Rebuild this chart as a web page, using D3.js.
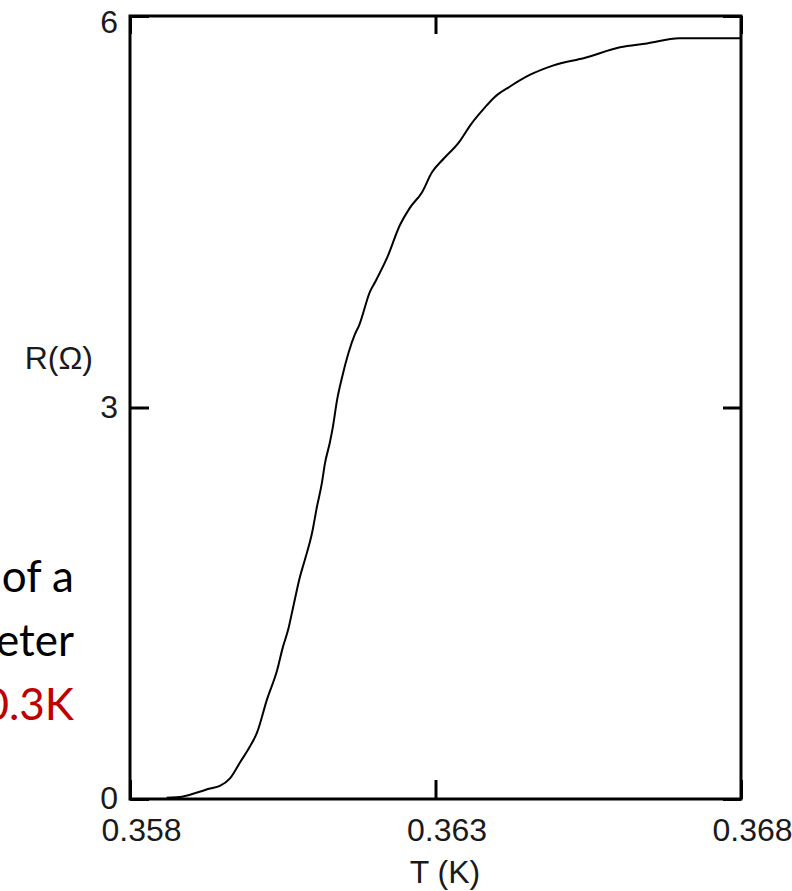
<!DOCTYPE html>
<html>
<head>
<meta charset="utf-8">
<script src="https://cdn.jsdelivr.net/npm/d3@7"></script>
<style>
  html, body { margin: 0; padding: 0; background: #fff; }
  svg { display: block; }
  .lbl { font-family: "Liberation Sans", Arial, Helvetica, sans-serif; font-size: 32px; fill: #1a1a1a; }
  .slide { font-family: Lato, "Open Sans", sans-serif; font-size: 44px; }
</style>
</head>
<body>
<svg id="chart" width="792" height="891"></svg>
<script>
// Resistance vs temperature across the superconducting transition
const temperatureK = [
  0.3586, 0.35887, 0.3591, 0.35931, 0.35947, 0.35964, 0.3598, 0.35996, 0.36008, 0.36024,
  0.36041, 0.3605, 0.36059, 0.36067, 0.36078, 0.36086, 0.36098, 0.36106, 0.36114, 0.36119,
  0.36127, 0.36132, 0.36139, 0.36147, 0.36168, 0.36175, 0.36193, 0.36201, 0.36221, 0.36242,
  0.36258, 0.36278, 0.36294, 0.36314, 0.36338, 0.36358, 0.36381, 0.36397, 0.36422, 0.36455,
  0.36492, 0.36545, 0.36602, 0.36646, 0.36699, 0.368
];
const resistanceOhm = [
  0.01, 0.02, 0.05, 0.08, 0.10, 0.16, 0.28, 0.40, 0.51, 0.76,
  0.99, 1.16, 1.30, 1.47, 1.70, 1.83, 2.04, 2.24, 2.42, 2.57,
  2.73, 2.85, 3.06, 3.23, 3.56, 3.63, 3.89, 3.96, 4.15, 4.40,
  4.53, 4.65, 4.80, 4.91, 5.03, 5.17, 5.30, 5.38, 5.46, 5.55,
  5.62, 5.68, 5.76, 5.79, 5.83, 5.83
];
const xTicks = [0.358, 0.363, 0.368];
const yTicks = [0, 3, 6];
const xLabel = "T (K)";
const yLabel = "R(\u03A9)";
const sideLines = ["of a", "eter", "0.3K"];
const sideColors = ["#000000", "#000000", "#c00000"];

const svg = d3.select("#chart");
const plot = { left: 130, right: 741, top: 16, bottom: 799 };

const x = d3.scaleLinear().domain([0.358, 0.368]).range([plot.left, plot.right]);
const y = d3.scaleLinear().domain([0, 6]).range([plot.bottom, plot.top]);

// text fragment at the left edge of the slide
svg.append("g").selectAll("text")
  .data(sideLines)
  .join("text")
  .attr("class", "slide")
  .attr("x", 74)
  .attr("y", (d, i) => 592 + i * 64)
  .attr("text-anchor", "end")
  .attr("fill", (d, i) => sideColors[i])
  .text(d => d);

// bottom axis with labels, inward ticks
const gx = svg.append("g")
  .attr("transform", `translate(0,${plot.bottom})`)
  .call(d3.axisBottom(x).tickValues(xTicks).tickFormat(d3.format(".3f"))
    .tickSizeInner(-19).tickSizeOuter(0).tickPadding(19));
// left axis with labels, inward ticks
const gy = svg.append("g")
  .attr("transform", `translate(${plot.left},0)`)
  .call(d3.axisLeft(y).tickValues(yTicks).tickFormat(d3.format("d"))
    .tickSizeInner(-19).tickSizeOuter(0).tickPadding(12));
// top and right axes: inward ticks only
const gt = svg.append("g")
  .attr("transform", `translate(0,${plot.top})`)
  .call(d3.axisTop(x).tickValues(xTicks).tickFormat("").tickSizeInner(-18).tickSizeOuter(0));
const gr = svg.append("g")
  .attr("transform", `translate(${plot.right},0)`)
  .call(d3.axisRight(y).tickValues(yTicks).tickFormat("").tickSizeInner(-18).tickSizeOuter(0));

[gx, gy, gt, gr].forEach(g => {
  g.select(".domain").remove();
  g.selectAll(".tick line").attr("stroke", "#000").attr("stroke-width", 3);
  g.selectAll(".tick text").attr("class", "lbl").attr("font-size", null).attr("font-family", null);
});
gx.selectAll(".tick text").attr("dx", 11).attr("dy", "0.71em");
// top label sits a little below the frame corner
gy.selectAll(".tick text").attr("dy", d => d === yTicks[yTicks.length - 1] ? "0.5em" : "0.3em");

// frame
svg.append("rect")
  .attr("x", plot.left).attr("y", plot.top)
  .attr("width", plot.right - plot.left).attr("height", plot.bottom - plot.top)
  .attr("fill", "none").attr("stroke", "#000").attr("stroke-width", 3);

// curve
const pts = temperatureK.map((t, i) => [t, resistanceOhm[i]]);
svg.append("path")
  .datum(pts)
  .attr("fill", "none")
  .attr("stroke", "#000")
  .attr("stroke-width", 2)
  .attr("stroke-linejoin", "round")
  .attr("d", d3.line().curve(d3.curveMonotoneX).x(d => x(d[0])).y(d => y(d[1])));

// axis titles
svg.append("text").attr("class", "lbl")
  .attr("x", 445).attr("y", 883).attr("text-anchor", "middle").text(xLabel);
svg.append("text").attr("class", "lbl")
  .attr("x", 93).attr("y", 369).attr("text-anchor", "end").text(yLabel);
</script>
</body>
</html>
